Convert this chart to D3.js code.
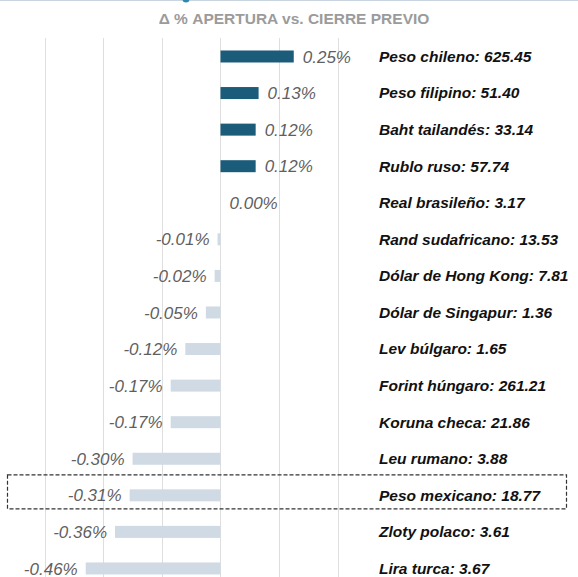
<!DOCTYPE html>
<html>
<head>
<meta charset="utf-8">
<script src="https://cdn.jsdelivr.net/npm/d3@7"></script>
<style>
  html, body { margin: 0; padding: 0; background: #fff; }
  svg { display: block; font-family: "Liberation Sans", Arial, Helvetica, sans-serif; }
</style>
</head>
<body>
<svg id="chart" width="578" height="577"></svg>
<script>
// monedas y variación % apertura vs. cierre previo
const categories = [
  "Peso chileno: 625.45", "Peso filipino: 51.40", "Baht tailandés: 33.14",
  "Rublo ruso: 57.74", "Real brasileño: 3.17", "Rand sudafricano: 13.53",
  "Dólar de Hong Kong: 7.81", "Dólar de Singapur: 1.36", "Lev búlgaro: 1.65",
  "Forint húngaro: 261.21", "Koruna checa: 21.86", "Leu rumano: 3.88",
  "Peso mexicano: 18.77", "Zloty polaco: 3.61", "Lira turca: 3.67"
];
const values = [0.25, 0.13, 0.12, 0.12, 0.00, -0.01, -0.02, -0.05, -0.12, -0.17, -0.17, -0.30, -0.31, -0.36, -0.46];
const gridTicks = [-0.6, -0.4, -0.2, 0, 0.2, 0.4];
const highlighted = "Peso mexicano: 18.77";

const data = categories.map((c, i) => ({ name: c, value: values[i] }));

const svg = d3.select("#chart"),
  width = 578,
  height = 577;

const x = d3.scaleLinear()
  .domain([-0.6, 0.4])
  .range([44.7, 337.7]);

const y = d3.scaleBand()
  .domain(categories)
  .range([38.2, 38.2 + 36.57 * categories.length])
  .paddingInner(0.68)
  .paddingOuter(0.34);

// línea superior
svg.append("line")
  .attr("x1", 0).attr("x2", width)
  .attr("y1", 0.5).attr("y2", 0.5)
  .attr("stroke", "#c9d6e2");
svg.append("circle")
  .attr("cx", 186).attr("cy", -1).attr("r", 3.5)
  .attr("fill", "#2f86b0");

// título
svg.append("text")
  .attr("x", 294)
  .attr("y", 24)
  .attr("text-anchor", "middle")
  .attr("font-size", "15.5px")
  .attr("font-weight", "bold")
  .attr("fill", "#9b9b9b")
  .text("\u0394 % APERTURA vs. CIERRE PREVIO");

// rejilla
svg.append("g")
  .selectAll("line")
  .data(gridTicks)
  .enter()
  .append("line")
    .attr("x1", d => Math.round(x(d)) + 0.5)
    .attr("x2", d => Math.round(x(d)) + 0.5)
    .attr("y1", 38)
    .attr("y2", height)
    .attr("stroke", "#dedede")
    .attr("stroke-width", 1);

// barras
svg.append("g")
  .selectAll("rect")
  .data(data)
  .enter()
  .append("rect")
    .attr("x", d => x(Math.min(0, d.value)))
    .attr("y", d => y(d.name) + y.bandwidth() / 2 - 6)
    .attr("width", d => Math.abs(x(d.value) - x(0)))
    .attr("height", 12)
    .attr("fill", d => d.value > 0 ? "#1a5c7a" : "#d0dae4");

// etiquetas de valor
svg.append("g")
  .selectAll("text")
  .data(data)
  .enter()
  .append("text")
    .attr("x", d => d.value < 0 ? x(d.value) - 8 : x(d.value) + 9)
    .attr("y", d => y(d.name) + y.bandwidth() / 2)
    .attr("dy", "0.36em")
    .attr("text-anchor", d => d.value < 0 ? "end" : "start")
    .attr("font-size", "17px")
    .attr("font-style", "italic")
    .attr("fill", "#5f5f5f")
    .text(d => d.value.toFixed(2) + "%");

// etiquetas de moneda
svg.append("g")
  .selectAll("text")
  .data(data)
  .enter()
  .append("text")
    .attr("x", 379)
    .attr("y", d => y(d.name) + y.bandwidth() / 2)
    .attr("dy", "0.35em")
    .attr("font-size", "15.5px")
    .attr("font-weight", "bold")
    .attr("font-style", "italic")
    .attr("fill", "#111")
    .text(d => d.name);

// recuadro punteado del peso mexicano
const yc = y(highlighted) + y.bandwidth() / 2;
svg.append("rect")
  .attr("x", 7.5)
  .attr("y", yc - 20.5)
  .attr("width", 559)
  .attr("height", 34)
  .attr("fill", "none")
  .attr("stroke", "#333")
  .attr("stroke-width", 1.2)
  .attr("stroke-dasharray", "4,2");
</script>
</body>
</html>
